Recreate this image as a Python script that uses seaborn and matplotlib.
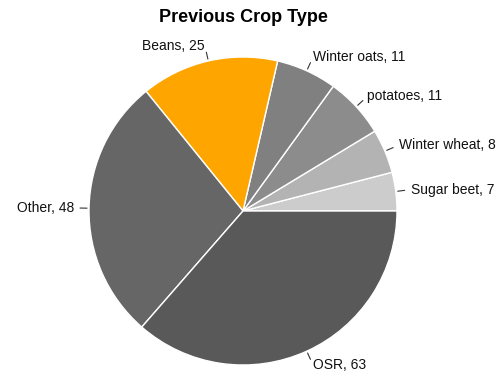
import numpy as np
import matplotlib
matplotlib.use("Agg")
import matplotlib.pyplot as plt
import seaborn as sns

sns.set_theme(style="white")
plt.rcParams['font.family'] = ['Liberation Sans', 'DejaVu Sans']

categories = ["Sugar beet", "Winter wheat", "potatoes", "Winter oats", "Beans", "Other", "OSR"]
values = [7, 8, 11, 11, 25, 48, 63]
colors = ["#cccccc", "#b3b3b3", "#8c8c8c", "#808080", "#ffa500", "#666666", "#595959"]
title = "Previous Crop Type"

W, H = 503, 375
fig = plt.figure(figsize=(W / 100, H / 100), dpi=100)
ax = fig.add_axes([0, 0, 1, 1])
ax.set_xlim(0, W)
ax.set_ylim(0, H)
ax.set_aspect("equal")
ax.axis("off")

cx, cy, R = 243, H - 211, 154
wedges, _ = ax.pie(values, colors=colors, startangle=0, counterclock=True,
                   center=(cx, cy), radius=R, frame=True,
                   wedgeprops=dict(edgecolor="white", linewidth=1))
ax.set_xlim(0, W)
ax.set_ylim(0, H)
ax.axis("off")

for w, cat, v in zip(wedges, categories, values):
    ang = np.deg2rad((w.theta1 + w.theta2) / 2)
    c, s = np.cos(ang), np.sin(ang)
    ax.plot([cx + (R + 2) * c, cx + (R + 9) * c], [cy + (R + 2) * s, cy + (R + 9) * s],
            color="#333333", lw=0.8)
    ha = "left" if c >= 0 else "right"
    ax.text(cx + (R + 15) * c, cy + (R + 15) * s, f"{cat}, {v}", ha=ha, va="center",
            fontsize=10, color="#111111")

ax.text(243, H - 17, title, ha="center", va="center", fontsize=13, fontweight="bold", color="black")

fig.savefig("out.png", dpi=100)
